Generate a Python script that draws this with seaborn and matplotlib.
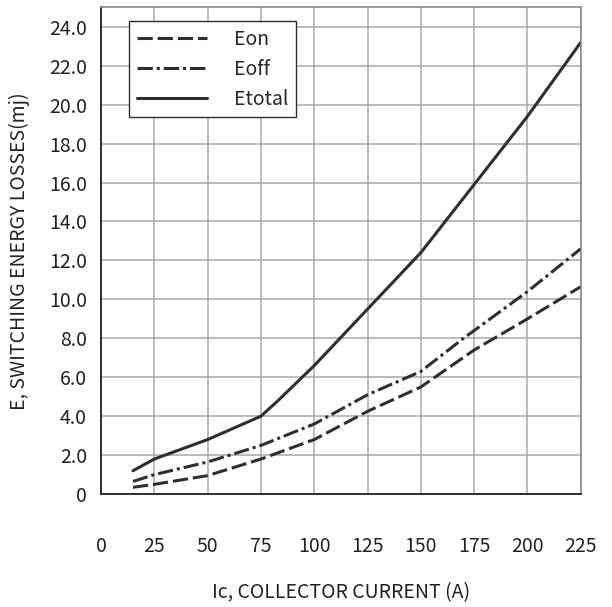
import matplotlib
matplotlib.use('Agg')
import matplotlib.pyplot as plt
import seaborn as sns

# values
x_on = [15, 25, 50, 75, 100, 125, 150, 175, 200, 225]
e_on = [0.35, 0.5, 0.95, 1.8, 2.8, 4.25, 5.5, 7.4, 9.0, 10.65]

x_off = [15, 25, 50, 75, 100, 125, 150, 170, 200, 225]
e_off = [0.65, 1.0, 1.65, 2.5, 3.6, 5.1, 6.3, 8.0, 10.4, 12.6]

x_total = [15, 25, 50, 75, 83, 100, 125, 150, 170, 200, 225]
e_total = [1.2, 1.8, 2.8, 4.0, 4.8, 6.6, 9.5, 12.4, 15.2, 19.4, 23.2]

x_ticks = [0, 25, 50, 75, 100, 125, 150, 175, 200, 225]
y_ticks = [0, 2, 4, 6, 8, 10, 12, 14, 16, 18, 20, 22, 24]
y_ticklabels = ['0'] + [f'{v:.1f}' for v in y_ticks[1:]]

sns.set_style('white')
plt.rcParams['font.family'] = ['Noto Sans CJK SC', 'DejaVu Sans']

line_color = '#2b2f33'
text_color = '#222222'

fig = plt.figure(figsize=(6.12, 6.07), dpi=100)
ax = fig.add_axes([0.165, 0.186, 0.784, 0.802])

sns.lineplot(x=x_on, y=e_on, ax=ax, color=line_color, linewidth=2.2,
             linestyle=(0, (5, 1.6)), label='Eon')
sns.lineplot(x=x_off, y=e_off, ax=ax, color=line_color, linewidth=2.2,
             linestyle=(0, (5, 1.3, 1, 1.3)), label='Eoff')
sns.lineplot(x=x_total, y=e_total, ax=ax, color=line_color, linewidth=2.2,
             linestyle='-', label='Etotal')

ax.set_xlim(0, 225)
ax.set_ylim(0, 25)
ax.set_xticks(x_ticks)
ax.set_yticks(y_ticks)
ax.set_yticklabels(y_ticklabels)
ax.tick_params(axis='x', length=0, pad=30, labelsize=14, colors=text_color)
ax.tick_params(axis='y', length=0, pad=10, labelsize=14, colors=text_color)

ax.grid(True, color='#a8a8a8', linewidth=1.1)
for side in ['top', 'right']:
    ax.spines[side].set_color('#8a8a8a')
    ax.spines[side].set_linewidth(1.2)
for side in ['left', 'bottom']:
    ax.spines[side].set_color('#2b2f33')
    ax.spines[side].set_linewidth(1.4)

ax.set_xlabel('Ic, COLLECTOR CURRENT (A)', fontsize=14, color=text_color)
ax.set_ylabel('E, SWITCHING ENERGY LOSSES(mj)', fontsize=14, color=text_color)
ax.xaxis.set_label_coords(0.5, -0.18)
ax.yaxis.set_label_coords(-0.148, 0.5)

leg = ax.legend(loc='upper left', bbox_to_anchor=(0.058, 0.971), borderaxespad=0,
                fontsize=14, frameon=True, fancybox=False, handlelength=3.6,
                handletextpad=1.4, borderpad=0.4, labelspacing=0.45)
leg.get_frame().set_edgecolor('#2b2f33')
leg.get_frame().set_linewidth(1.0)
leg.get_frame().set_alpha(1)

plt.savefig('out.png', dpi=100)
